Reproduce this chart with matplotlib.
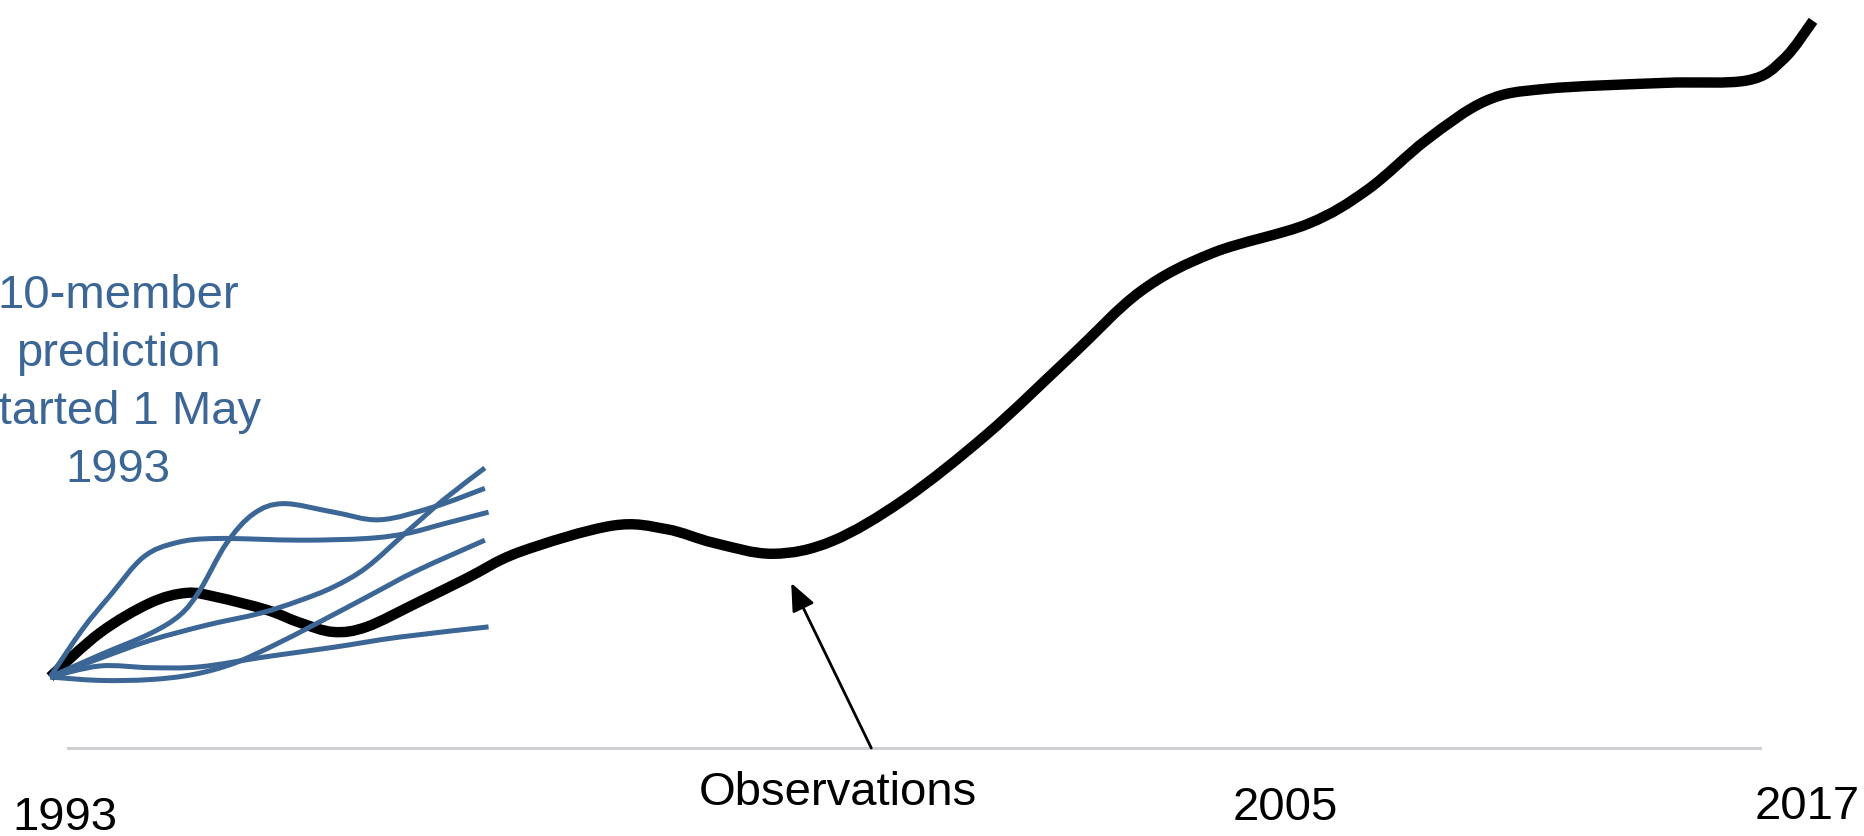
import numpy as np
import matplotlib
matplotlib.use("Agg")
import matplotlib.pyplot as plt
from matplotlib.path import Path
from matplotlib.patches import PathPatch

plt.rcParams['font.family'] = ['Liberation Sans', 'DejaVu Sans']

obs_years = [1993.00, 1993.68, 1994.36, 1994.86, 1995.27, 1995.95, 1996.40, 1996.86,
             1997.31, 1997.99, 1998.67, 1999.39, 2000.65, 2001.39, 2002.03,
             2002.84, 2003.65, 2004.63, 2005.76, 2006.88, 2007.85, 2008.83, 2010.12,
             2010.93, 2011.74, 2012.55, 2013.36, 2014.98, 2016.11, 2016.60, 2017.00]
obs_values = [0.0, 5.2, 8.7, 9.9, 9.4, 7.9, 6.4, 5.3,
              5.9, 8.7, 11.6, 14.7, 17.8, 17.4, 15.8,
              14.5, 16.0, 20.9, 28.6, 37.6, 45.4, 49.9, 53.3,
              57.3, 63.2, 67.8, 69.2, 69.9, 70.2, 72.7, 77.2]

# ensemble members started 1 May 1993
m1_years = [1993.00, 1993.68, 1994.36, 1994.77, 1995.04, 1995.40, 1995.77, 1996.18,
            1996.86, 1997.49, 1998.22, 1998.92]
m1_values = [0.0, 2.6, 5.1, 7.3, 10.2, 15.7, 19.2, 20.4, 19.4, 18.5, 20.0, 22.2]

m2_years = [1993.00, 1993.68, 1994.36, 1995.13, 1995.86, 1996.40, 1996.86, 1997.31,
            1997.86, 1998.35, 1998.92]
m2_values = [0.0, 2.2, 4.3, 6.1, 7.5, 9.0, 10.6, 12.9, 17.1, 20.8, 24.6]

m3_years = [1993.00, 1993.45, 1993.82, 1994.27, 1994.72, 1995.27, 1996.40, 1997.31,
            1997.86, 1998.35, 1998.97]
m3_values = [0.0, 5.7, 9.6, 14.1, 15.8, 16.3, 16.1, 16.3, 16.9, 18.0, 19.4]

m4_years = [1993.00, 1993.68, 1994.36, 1994.95, 1995.50, 1996.04, 1996.63, 1997.31,
            1997.99, 1998.92]
m4_values = [0.0, -0.4, -0.3, 0.3, 1.6, 3.7, 6.3, 9.4, 12.5, 16.1]

m5_years = [1993.00, 1993.68, 1994.36, 1995.04, 1995.95, 1996.86, 1997.76, 1998.97]
m5_values = [0.0, 1.3, 1.1, 1.2, 2.4, 3.5, 4.7, 5.9]

members = [(m1_years, m1_values), (m2_years, m2_values), (m3_years, m3_values),
           (m4_years, m4_values), (m5_years, m5_values)]

pred_lines = ['10-member', 'prediction', 'started 1 May', '1993']
bottom_labels = ['1993', 'Observations', '2005', '2017']

W, H = 1864, 836
blue = '#3b6696'


def smooth_path(xs, ys):
    # Excel-style smoothed line: Catmull-Rom segments drawn as cubic Beziers
    p = np.column_stack([xs, ys]).astype(float)
    verts = [p[0]]
    codes = [Path.MOVETO]
    n = len(p)
    for i in range(n - 1):
        p0 = p[max(i - 1, 0)]
        p1 = p[i]
        p2 = p[i + 1]
        p3 = p[min(i + 2, n - 1)]
        verts += [p1 + (p2 - p0) / 6, p2 - (p3 - p1) / 6, p2]
        codes += [Path.CURVE4] * 3
    return Path(verts, codes)


fig = plt.figure(figsize=(W / 100, H / 100), dpi=100)
ax = fig.add_axes([68 / W, (H - 748) / H, (1760 - 68) / W, 748 / H])
ax.set_xlim(1993.245, 2016.278)
ax.set_ylim(-8.35, 79.65)

ax.add_patch(PathPatch(smooth_path(obs_years, obs_values), fill=False, edgecolor='black',
                       lw=7.5, clip_on=False, capstyle='butt', joinstyle='round', zorder=2))
for yrs, vals in members:
    ax.add_patch(PathPatch(smooth_path(yrs, vals), fill=False, edgecolor=blue,
                           lw=3.6, clip_on=False, capstyle='butt', joinstyle='round',
                           zorder=3))

for s in ['top', 'right', 'left']:
    ax.spines[s].set_visible(False)
ax.spines['bottom'].set_color('#cfcfd4')
ax.spines['bottom'].set_linewidth(2.2)
ax.set_xticks([])
ax.set_yticks([])

# arrow pointing at the observations
ax.annotate('', xy=(2003.09, 11.06), xytext=(2004.18, -8.35),
            arrowprops=dict(arrowstyle='-|>,head_length=0.7,head_width=0.3', color='black',
                            lw=2.0, mutation_scale=24, shrinkA=0, shrinkB=0),
            annotation_clip=False)

# prediction label
for i, line in enumerate(pred_lines):
    fig.text(118 / W, 1 - (308 + 58 * i) / H, line, color=blue, fontsize=34,
             ha='center', va='baseline')

# bottom labels
label_pos = [(65, 830), (838, 805), (1285, 820), (1807, 819)]
for txt, (px, py) in zip(bottom_labels, label_pos):
    fig.text(px / W, 1 - py / H, txt, color='black', fontsize=34,
             ha='center', va='baseline')

fig.savefig('out.png', dpi=100)
